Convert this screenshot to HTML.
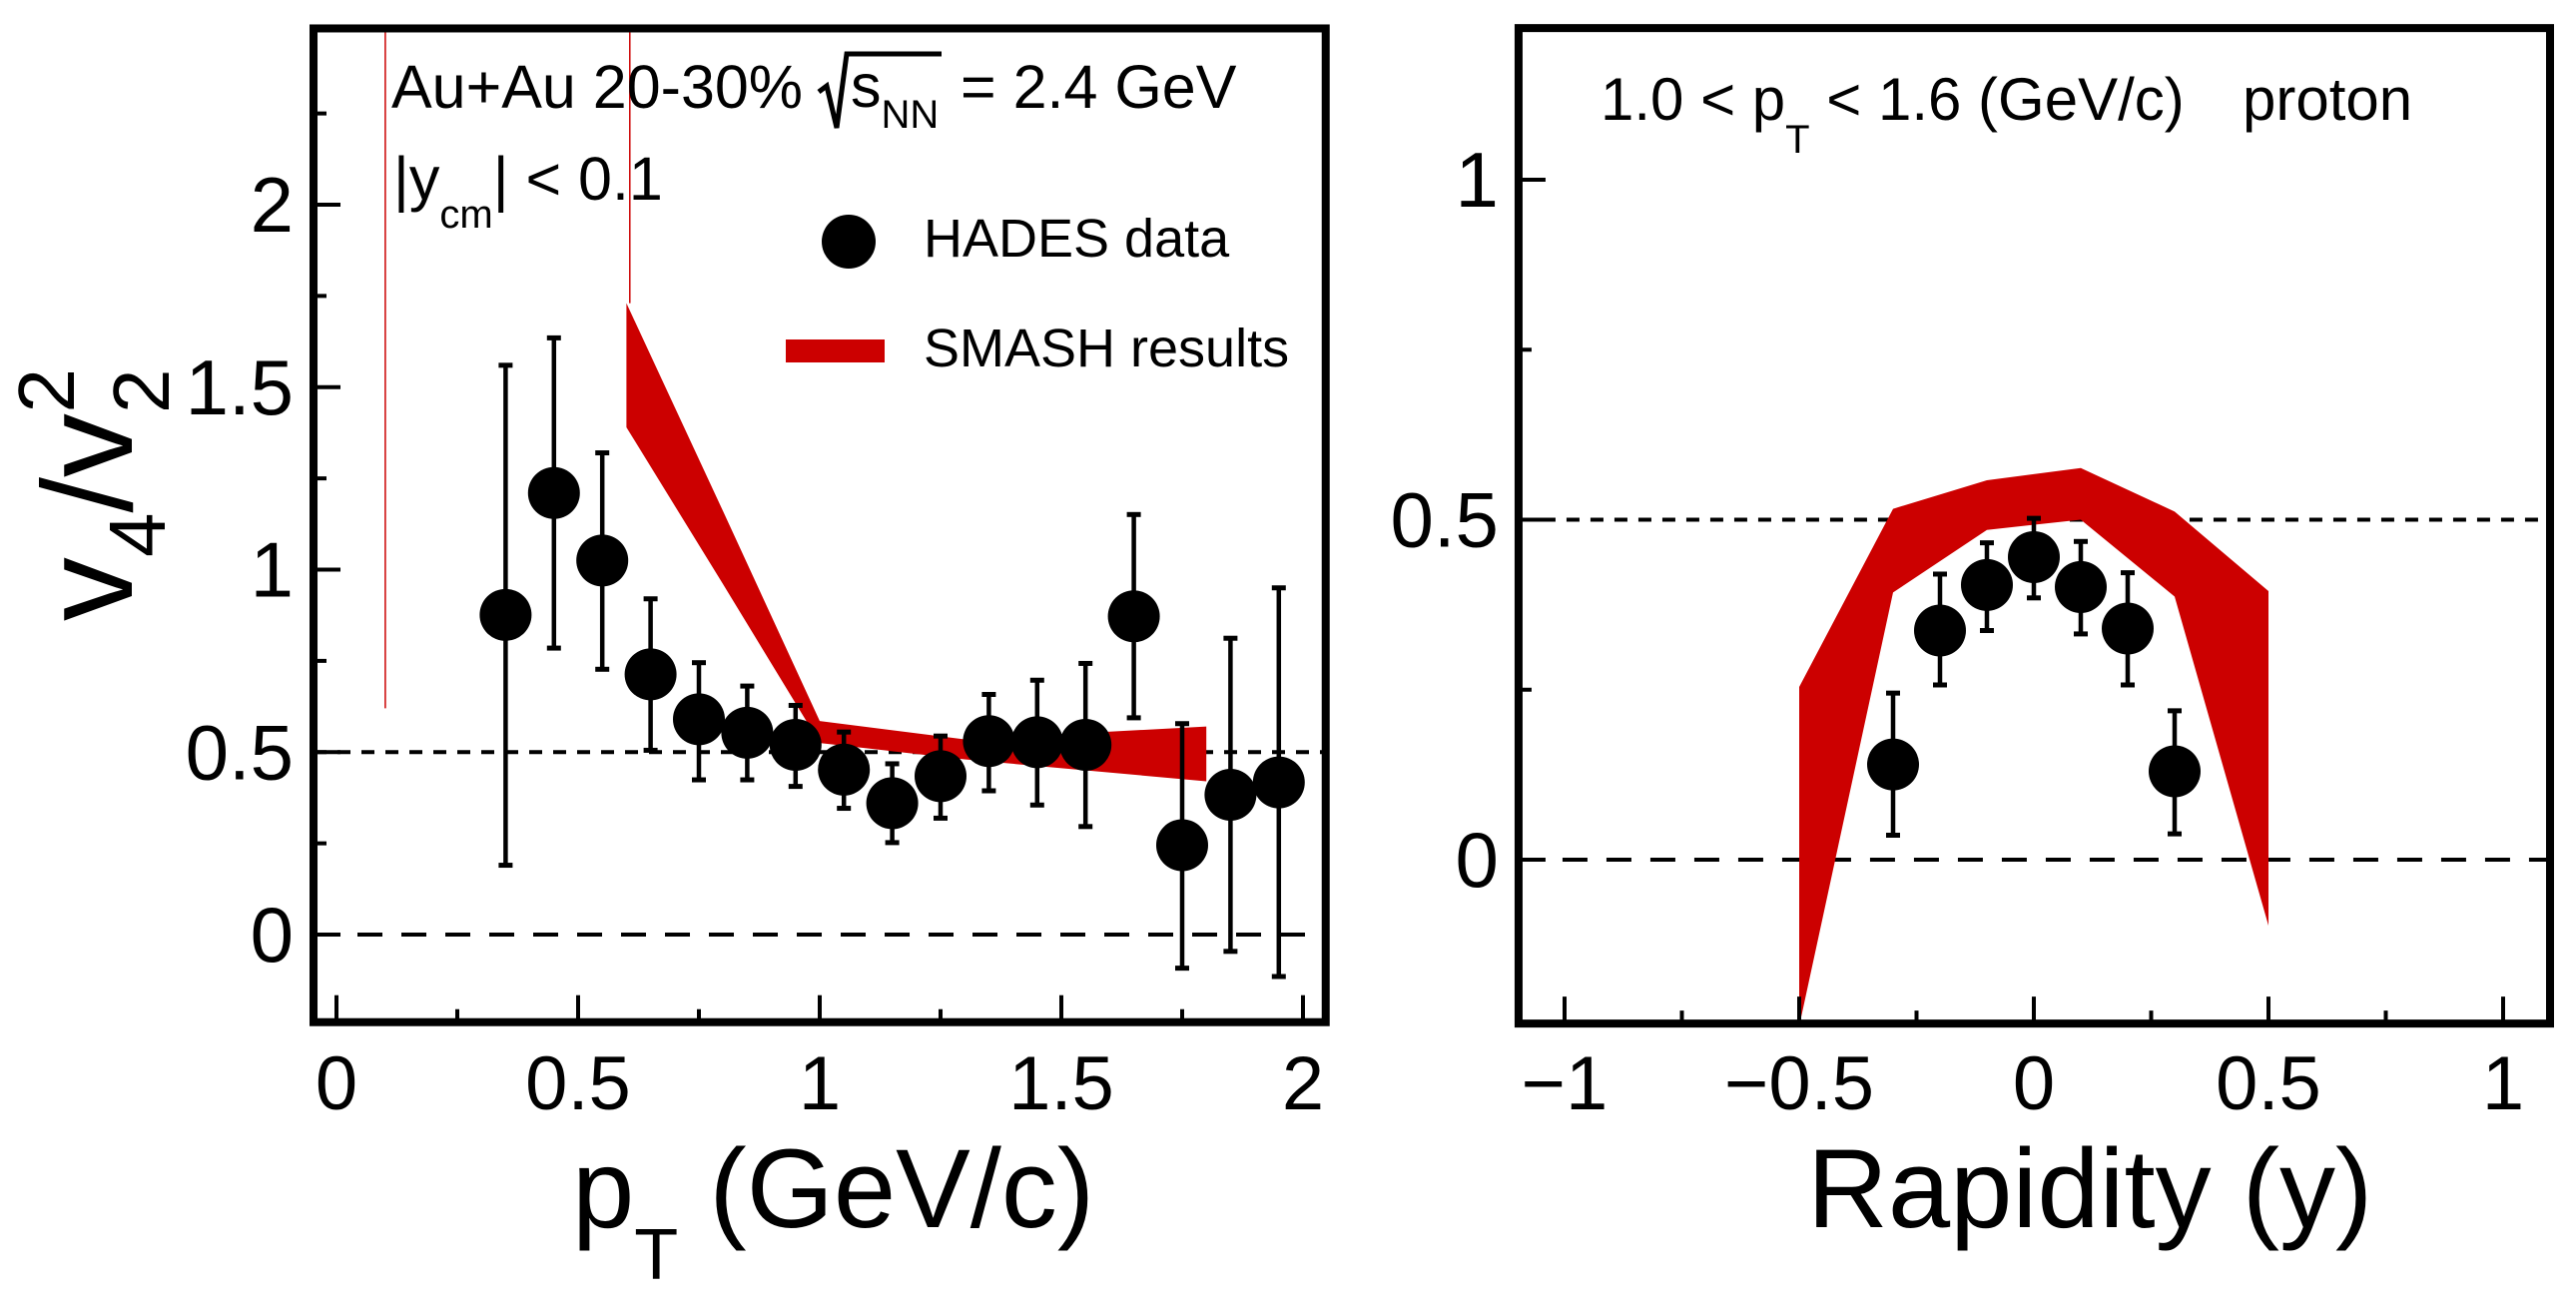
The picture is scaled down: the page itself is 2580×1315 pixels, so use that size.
<!DOCTYPE html>
<html><head><meta charset="utf-8"><style>
html,body{margin:0;padding:0;background:#fff;}
svg{display:block;font-family:"Liberation Sans",Arial,sans-serif;}
</style></head><body>
<svg id="fig" width="2580" height="1315" viewBox="0 0 2580 1315" xmlns="http://www.w3.org/2000/svg">
<rect x="0" y="0" width="2580" height="1315" fill="#fff"/>
<g id="left"></g>
<g id="right"></g>

<g font-size="61">
<text x="392" y="108">Au+Au 20-30%</text>
<polyline points="820,92 828,86 838,128 848,54 943,54" fill="none" stroke="#000" stroke-width="5"/>
<text x="852" y="107">s<tspan font-size="40" dy="21">NN</tspan></text>
<text x="962" y="108">= 2.4 GeV</text>
<text x="394" y="200">|y<tspan font-size="40" dy="28">cm</tspan><tspan dy="-28">| &lt; 0.1</tspan></text>
</g>
<g font-size="54">
<circle cx="850" cy="242" r="27" fill="#000"/>
<text x="925" y="257">HADES data</text>
<rect x="787" y="340" width="99" height="23" fill="#cc0000"/>
<text x="925" y="367">SMASH results</text>
</g>
<g font-size="60">
<text x="1603" y="120">1.0 &lt; p<tspan font-size="40" dy="33">T</tspan><tspan dy="-33"> &lt; 1.6 (GeV/c)</tspan></text>
<text x="2246" y="120">proton</text>
</g>
<text x="573" y="1229" font-size="112">p<tspan font-size="72" dy="52">T</tspan><tspan dy="-52"> (GeV/c)</tspan></text>
<text x="1810" y="1229" font-size="112">Rapidity (y)</text>
<g transform="translate(132,622) rotate(-90)">
<text x="0" y="0" font-size="128">v<tspan font-size="80" dy="33">4</tspan><tspan dy="-33">/v</tspan><tspan font-size="80" dy="37">2</tspan><tspan font-size="80" dx="-44" dy="-95">2</tspan></text>
</g>
</svg>
<script>
const ptValues = [0.35,0.45,0.55,0.65,0.75,0.85,0.95,1.05,1.15,1.25,1.35,1.45,1.55,1.65,1.75,1.85,1.95];
const ptRatio  = [0.876,1.21,1.025,0.713,0.59,0.553,0.52,0.452,0.36,0.434,0.53,0.527,0.52,0.872,0.245,0.383,0.417];
const ptErrHi  = [1.56,1.635,1.32,0.92,0.745,0.681,0.628,0.555,0.468,0.544,0.658,0.697,0.743,1.151,0.578,0.812,0.95];
const ptErrLo  = [0.19,0.785,0.727,0.505,0.424,0.424,0.406,0.346,0.252,0.319,0.394,0.355,0.296,0.594,-0.092,-0.046,-0.115];
const smashPt      = [0.6,0.8,1.0,1.3,1.8];
const smashPtUpper = [1.73,1.16,0.585,0.535,0.57];
const smashPtLower = [1.39,0.96,0.525,0.48,0.42];
const leftXTicks = ["0","0.5","1","1.5","2"];
const leftYTicks = ["0","0.5","1","1.5","2"];
const yValues = [-0.3,-0.2,-0.1,0,0.1,0.2,0.3];
const yRatio  = [0.14,0.337,0.404,0.445,0.401,0.34,0.13];
const yErrHi  = [0.245,0.42,0.466,0.502,0.468,0.422,0.219];
const yErrLo  = [0.036,0.257,0.337,0.385,0.332,0.257,0.038];
const smashY      = [-0.5,-0.3,-0.1,0.1,0.3,0.5];
const smashYUpper = [0.254,0.516,0.558,0.576,0.512,0.395];
const smashYLower = [-0.245,0.393,0.485,0.5,0.387,-0.097];
const rightXTicks = ["\u22121","\u22120.5","0","0.5","1"];
const rightYTicks = ["0","0.5","1"];

const NS="http://www.w3.org/2000/svg";
function mk(parent,tag,attrs){const e=document.createElementNS(NS,tag);for(const k in attrs)e.setAttribute(k,attrs[k]);parent.appendChild(e);return e;}

function panel(g,cfg){
  const X=v=>cfg.px0+(v-cfg.x0)/(cfg.x1-cfg.x0)*(cfg.px1-cfg.px0);
  const Y=v=>cfg.py0+(v-cfg.y0)/(cfg.y1-cfg.y0)*(cfg.py1-cfg.py0);
  const L=X(cfg.xmin),R=X(cfg.xmax),T=Y(cfg.ymax),B=Y(cfg.ymin);
  const cp='clip'+cfg.id;
  const defs=mk(g,'defs',{});const c=mk(defs,'clipPath',{id:cp});mk(c,'rect',{x:L,y:T,width:R-L,height:B-T});
  const l0=mk(g,'line',{x1:L,x2:R,y1:Y(0),y2:Y(0),stroke:'#000','stroke-width':4,'stroke-dasharray':'25 19'});
  
  
  const l5=mk(g,'line',{x1:L,x2:R,y1:Y(0.5),y2:Y(0.5),stroke:'#000','stroke-width':4,'stroke-dasharray':'13 11'});
  
  
  let pts=[];
  for(let i=0;i<cfg.bx.length;i++)pts.push(X(cfg.bx[i])+','+Y(cfg.bu[i]));
  for(let i=cfg.bx.length-1;i>=0;i--)pts.push(X(cfg.bx[i])+','+Y(cfg.bl[i]));
  const band=mk(g,'polygon',{points:pts.join(' '),fill:'#cc0000','clip-path':'url(#'+cp+')'});
  
  
  if(cfg.redLines){
    cfg.redLines.forEach(r=>{
      const rl=mk(g,'line',{x1:X(r[0]),x2:X(r[0]),y1:T,y2:Y(r[1]),stroke:'#cc0000','stroke-width':1.5});
      
      
    });
  }
  for(let i=0;i<cfg.dx.length;i++){
    const x=X(cfg.dx[i]);
    const eg=mk(g,'g',{'clip-path':'url(#'+cp+')'});
    
    
    mk(eg,'line',{x1:x,x2:x,y1:Y(cfg.dh[i]),y2:Y(cfg.dl[i]),stroke:'#000','stroke-width':4.5});
    mk(eg,'line',{x1:x-7,x2:x+7,y1:Y(cfg.dh[i]),y2:Y(cfg.dh[i]),stroke:'#000','stroke-width':5});
    mk(eg,'line',{x1:x-7,x2:x+7,y1:Y(cfg.dl[i]),y2:Y(cfg.dl[i]),stroke:'#000','stroke-width':5});
    const m=mk(g,'circle',{cx:x,cy:Y(cfg.dy[i]),r:cfg.r,fill:'#000'});
    
    
  }
  const tk=mk(g,'g',{stroke:'#000','stroke-width':4});
  
  
  for(let v=cfg.xt0;v<=cfg.xmax+1e-6;v+=0.25){
    const maj=Math.abs(v*2-Math.round(v*2))<1e-6;
    mk(tk,'line',{x1:X(v),x2:X(v),y1:B,y2:B-(maj?27:13)});
  }
  for(let v=cfg.yt0;v<=cfg.ymax+1e-6;v+=0.25){
    const maj=Math.abs(v*2-Math.round(v*2))<1e-6;
    mk(tk,'line',{x1:L,x2:L+(maj?27:13),y1:Y(v),y2:Y(v)});
  }
  cfg.xl.forEach((s,i)=>{
    const t=mk(g,'text',{x:X(cfg.xlv[i]),y:1111,'font-size':76,'text-anchor':'middle'});
    t.textContent=s;
    
    
  });
  cfg.yl.forEach((s,i)=>{
    const t=mk(g,'text',{x:L-20,y:Y(cfg.ylv[i])+27,'font-size':78,'text-anchor':'end'});
    t.textContent=s;
    
    
  });
  const fr=mk(g,'rect',{x:L,y:T,width:R-L,height:B-T,fill:'none',stroke:'#000','stroke-width':8});
  
  
}

panel(document.getElementById('left'),{id:'L',
  x0:0,x1:2,px0:337,px1:1305,y0:0,y1:2,py0:936,py1:205,
  xmin:-0.0475,xmax:2.047,ymin:-0.24,ymax:2.483,xt0:0,yt0:0,
  dx:ptValues,dy:ptRatio,dh:ptErrHi,dl:ptErrLo,bx:smashPt,bu:smashPtUpper,bl:smashPtLower,r:26,
  xl:leftXTicks,xlv:[0,0.5,1,1.5,2],yl:leftYTicks,ylv:[0,0.5,1,1.5,2],
  redLines:[[0.101,0.62],[0.607,1.73]]});
panel(document.getElementById('right'),{id:'R',
  x0:0,x1:1,px0:2037,px1:2507,y0:0,y1:1,py0:861,py1:180,
  xmin:-1.098,xmax:1.1,ymin:-0.241,ymax:1.223,xt0:-1,yt0:0,
  dx:yValues,dy:yRatio,dh:yErrHi,dl:yErrLo,bx:smashY,bu:smashYUpper,bl:smashYLower,r:26,
  xl:rightXTicks,xlv:[-1,-0.5,0,0.5,1],yl:rightYTicks,ylv:[0,0.5,1]});
</script>
</body></html>
